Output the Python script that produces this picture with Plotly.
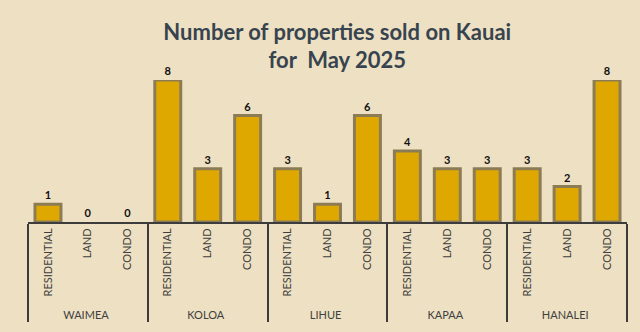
import plotly.graph_objects as go

# Sales counts per district and property type
districts = ["WAIMEA", "KOLOA", "LIHUE", "KAPAA", "HANALEI"]
types = ["RESIDENTIAL", "LAND", "CONDO"]
sold = [
    [1, 0, 0],   # WAIMEA
    [8, 3, 6],   # KOLOA
    [3, 1, 6],   # LIHUE
    [4, 3, 3],   # KAPAA
    [3, 2, 8],   # HANALEI
]

outer = [d for d in districts for _ in types]
inner = [t for _ in districts for t in types]
values = [v for row in sold for v in row]

bg = "#EEE0C2"

fig = go.Figure(
    go.Bar(
        x=[outer, inner],
        y=values,
        width=0.65,
        marker=dict(
            color="#DFA800",
            # no outline on empty bars
            line=dict(color="#8C7C55", width=[3 if v > 0 else 0 for v in values]),
        ),
        text=[f"<b>{v}</b>" for v in values],
        textposition="outside",
        textfont=dict(family="Lato", size=11, color="#111111"),
        cliponaxis=False,
    )
)

fig.update_layout(
    width=640,
    height=332,
    margin=dict(l=28, r=13, t=80, b=107),
    paper_bgcolor=bg,
    plot_bgcolor=bg,
    showlegend=False,
    title=dict(
        text="<b>Number of properties sold on Kauai<br>for  May 2025</b>",
        x=0.527,
        xanchor="center",
        y=0.88,
        yanchor="top",
        font=dict(family="Lato", size=22, color="#37444F"),
    ),
    font=dict(family="Lato", size=11, color="#404040"),
)

fig.update_xaxes(
    type="multicategory",
    tickangle=-90,
    showline=True,
    linecolor="#3C3C3C",
    linewidth=2,
    showdividers=True,
    dividercolor="#3C3C3C",
    dividerwidth=2,
    ticks="",
    tickfont=dict(family="Lato", size=11, color="#404040"),
    showgrid=False,
)
fig.update_yaxes(range=[0, 8], visible=False, showgrid=False)

fig.write_html("out.html")
